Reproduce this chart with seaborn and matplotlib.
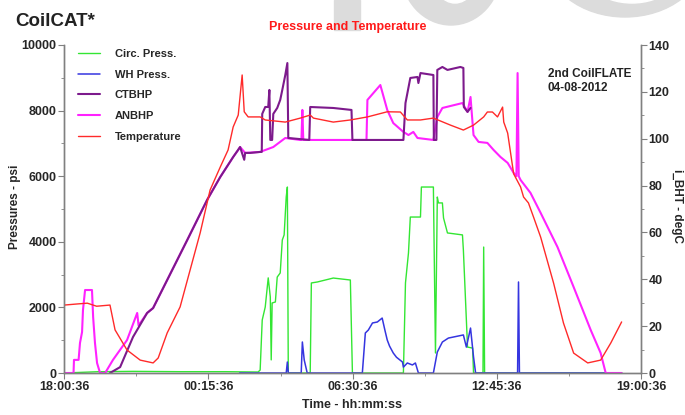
import pandas as pd
import matplotlib
matplotlib.use("Agg")
import matplotlib.pyplot as plt
from matplotlib.patches import Rectangle, Ellipse
from matplotlib.ticker import MultipleLocator
import seaborn as sns

# eixo x em horas desde 18:00:36
tick_hours = [0, 6.25, 12.5, 18.75, 25]
tick_labels = ['18:00:36', '00:15:36', '06:30:36', '12:45:36', '19:00:36']

# Circ. Press. (psi)
circ_t = [0, 1.5, 3.0, 5.0, 7.0, 8.40, 8.49, 8.58, 8.71, 8.84, 8.93, 8.97, 9.01, 9.15, 9.23, 9.36,
          9.45, 9.53, 9.62, 9.67, 9.71, 10.66, 10.71, 10.97, 11.66, 12.40, 12.49, 14.70, 14.79,
          14.92, 15.00, 15.44, 15.48, 16.00, 16.09, 16.17, 16.22, 16.39, 16.44, 16.61, 17.26,
          17.30, 17.48, 17.70, 17.74, 18.15, 18.18, 18.22, 24.16]
circ_p = [0, 40, 50, 40, 40, 30, 90, 1615, 2010, 2900, 2320, 400, 2135, 2165, 2925, 3050,
          4055, 4210, 5365, 5670, 0, 0, 2745, 2775, 2895, 2835, 0, 0, 2745,
          3660, 4755, 4755, 5670, 5670, 610, 5365, 5185, 5185, 4725, 4270, 4210,
          3750, 790, 760, 0, 0, 3840, 0, 0]

# WH Press. (psi)
wh_t = [7.6, 9.62, 9.67, 9.71, 10.27, 10.32, 10.40, 10.53, 12.92, 13.05, 13.18, 13.36, 13.57,
        13.78, 13.90, 14.00, 14.10, 14.26, 14.40, 14.66, 14.70, 14.87, 15.09, 15.22, 15.35,
        16.00, 16.17, 16.39, 16.65, 17.30, 17.43, 17.61, 17.74, 17.83, 19.65, 19.69, 19.73, 24.16]
wh_p = [0, 0, 335, 0, 0, 945, 400, 0, 0, 1220, 1310, 1525, 1555,
        1675, 1300, 1005, 820, 610, 480, 335, 180, 305, 245, 305, 0,
        0, 640, 945, 1065, 1160, 790, 1370, 490, 0, 0, 2775, 0, 0]

# CTBHP (psi)
ct_t = [1.98, 2.42, 2.98, 3.59, 3.85, 4.46, 5.33, 6.19, 6.76, 7.32, 7.62, 7.80, 7.84, 8.06,
        8.49, 8.56, 8.58, 8.71, 8.84, 8.89, 8.93, 9.01, 9.06, 9.23, 9.36, 9.45, 9.58, 9.67,
        9.71, 10.62, 10.66, 11.66, 12.45, 12.49, 14.70, 14.79, 15.00, 15.31, 15.35, 15.44,
        16.00, 16.02, 16.13, 16.17, 16.39, 16.61, 17.17, 17.30, 17.32, 17.48, 17.61]
ct_p = [0, 180, 1100, 1830, 1980, 2835, 4055, 5275, 5975, 6585, 6890, 6500, 6710, 6710,
        6740, 6740, 7900, 8110, 8110, 8630, 7105, 7105, 7900, 8080, 8325, 8630, 9085, 9450,
        7165, 7105, 8110, 8080, 8020, 7105, 7105, 8230, 8995, 9025, 8840, 9145,
        9085, 7105, 7105, 9240, 9330, 9240, 9330, 9300, 8110, 7960, 8080]

# ANBHP (psi)
an_t = [0, 0.40, 0.42, 0.62, 0.68, 0.77, 0.81, 0.90, 1.20, 1.25, 1.33, 1.42, 1.55, 1.77, 2.11,
        2.72, 3.16, 3.22, 3.59, 3.85, 4.46, 5.33, 6.19, 6.76, 7.32, 7.54, 7.62, 7.84, 8.49,
        9.06, 9.58, 10.23, 10.28, 10.32, 10.36, 13.10, 13.14, 13.70, 14.00, 14.26, 14.70,
        14.92, 15.13, 15.31, 16.00, 16.17, 16.39, 17.26, 17.48, 17.61, 17.66, 17.74, 17.96,
        18.34, 18.61, 18.91, 19.22, 19.48, 19.60, 19.65, 19.70, 19.78, 20.21, 20.65, 21.38,
        22.08, 22.82, 23.25, 23.47, 24.16]
an_p = [0, 0, 400, 400, 915, 1250, 1920, 2530, 2530, 1705, 915, 305, 0, 0, 400,
        1005, 1830, 1450, 1830, 1980, 2835, 4055, 5275, 5975, 6585, 6800, 6890, 6710, 6740,
        6890, 7165, 7105, 7105, 8020, 7105, 7105, 8325, 8780, 8020, 7620, 7350,
        7255, 7350, 7165, 7105, 7805, 8080, 8230, 7960, 8415, 7960, 7255, 7045,
        7015, 6800, 6585, 6405, 6100, 6000, 9145, 6000, 5885, 5490, 4880, 3840,
        2620, 1310, 610, 0, 0]

# Temperature (degC)
temp_t = [0, 0.6, 1.0, 1.4, 1.98, 2.20, 2.72, 3.29, 3.85, 4.07, 4.46, 5.02, 5.89, 6.32, 6.76,
          7.10, 7.32, 7.54, 7.71, 7.80, 7.97, 8.49, 8.71, 9.58, 10.23, 10.66, 10.80, 11.66,
          12.40, 13.14, 14.00, 14.57, 14.87, 15.44, 16.00, 16.74, 17.30, 17.74, 18.18, 18.34,
          18.56, 18.78, 19.00, 19.05, 19.22, 19.48, 19.78, 19.91, 20.12, 20.34, 20.65, 21.21,
          21.64, 22.08, 22.69, 23.25, 23.69, 24.16]
temp_c = [29.0, 29.5, 29.8, 28.5, 29.0, 18.4, 9.8, 5.5, 4.3, 6.4, 17.1, 28.2, 59.8, 78.1, 87.9,
          95.2, 105.0, 110.1, 127.2, 111.5, 109.3, 109.3, 108.0, 107.1, 108.8, 110.1, 108.8, 107.1,
          108.0, 109.3, 111.5, 111.4, 108.0, 108.0, 108.8, 105.8, 103.7, 105.8, 109.3, 111.4,
          111.4, 109.3, 113.5, 107.1, 102.4, 85.0, 79.4, 75.1, 72.6, 66.6, 58.0, 38.4,
          21.3, 8.5, 4.3, 5.5, 12.8, 21.8]

sns.set_style("white")
plt.rcParams['font.family'] = ['Liberation Sans Narrow', 'Liberation Sans', 'DejaVu Sans']
plt.rcParams['font.weight'] = 'bold'

fig = plt.figure(figsize=(6.85, 4.15), dpi=100)
W, H = 685.0, 415.0

# marca d'agua cinza no topo
grey = '#dcdcdc'
fig.patches.append(Rectangle((334 / W, 1 - 30 / H), 26 / W, 30 / H, transform=fig.transFigure,
                             color=grey, zorder=0))
fig.patches.append(Ellipse((451 / W, 1 + 30 / H), 100 / W, 110 / H, transform=fig.transFigure,
                           color=grey, zorder=0))
fig.patches.append(Ellipse((455 / W, 1 + 27 / H), 46 / W, 60 / H, transform=fig.transFigure,
                           color='white', zorder=0))
fig.patches.append(Ellipse((625 / W, 1 + 45 / H), 160 / W, 124 / H, transform=fig.transFigure,
                           color=grey, zorder=0))
fig.patches.append(Ellipse((632 / W, 1 + 40 / H), 110 / W, 86 / H, transform=fig.transFigure,
                           color='white', zorder=0))

ax = fig.add_axes([64.3 / W, 1 - 373 / H, (641 - 64.3) / W, (373 - 45) / H])
ax.patch.set_alpha(0)
ax2 = ax.twinx()

series = [
    (circ_t, circ_p, 'Circ. Press.', '#33e633', 1.0),
    (wh_t, wh_p, 'WH Press.', '#3535e0', 1.1),
    (an_t, an_p, 'ANBHP', '#ff22ff', 1.5),
    (ct_t, ct_p, 'CTBHP', '#7d1a8c', 1.5),
]
handles = {}
for t, v, name, col, lw in series:
    df = pd.DataFrame({'t': t, 'v': v})
    sns.lineplot(data=df, x='t', y='v', ax=ax, color=col, lw=lw, sort=False, estimator=None)
    handles[name] = ax.lines[-1]

df_temp = pd.DataFrame({'t': temp_t, 'v': temp_c})
sns.lineplot(data=df_temp, x='t', y='v', ax=ax2, color='#ff2a2a', lw=1.0, sort=False, estimator=None)
handles['Temperature'] = ax2.lines[-1]

ax.set_xlim(0, 25)
ax.set_ylim(0, 10000)
ax2.set_ylim(0, 140)
ax.set_xticks(tick_hours)
ax.set_xticklabels(tick_labels)
ax.xaxis.set_minor_locator(MultipleLocator(3.125))
ax.yaxis.set_major_locator(MultipleLocator(2000))
ax.yaxis.set_minor_locator(MultipleLocator(1000))
ax2.yaxis.set_major_locator(MultipleLocator(20))
ax2.yaxis.set_minor_locator(MultipleLocator(10))
ax.set_xlabel('')
ax.set_ylabel('')
ax2.set_ylabel('')

for a in (ax, ax2):
    for s in a.spines.values():
        s.set_color('#808080')
        s.set_linewidth(1.0)
    a.spines['top'].set_visible(False)
    a.tick_params(which='both', direction='out', color='#808080', labelsize=9, pad=1.5)
    a.tick_params(which='major', length=4)
    a.tick_params(which='minor', length=2.5)
ax.tick_params(axis='both', which='both', bottom=True, left=True)
ax2.tick_params(axis='y', which='both', right=True)

order = ['Circ. Press.', 'WH Press.', 'CTBHP', 'ANBHP', 'Temperature']
leg = ax.legend([handles[k] for k in order], order, loc='upper left',
                bbox_to_anchor=(78 / W, 1 - 49 / H), bbox_transform=fig.transFigure,
                frameon=False, fontsize=8, handlelength=2.0, handletextpad=1.3,
                labelspacing=0.96, borderpad=0, borderaxespad=0)

fig.text(15 / W, 1 - 22 / H, 'CoilCAT*', fontsize=13.5, color='#222222', va='center', ha='left')
fig.text(348 / W, 1 - 27 / H, 'Pressure and Temperature', fontsize=9, color='#ff1a1a',
         va='center', ha='center')
fig.text(548 / W, 1 - 74 / H, '2nd CoilFLATE', fontsize=8.5, color='#222222', va='center')
fig.text(548 / W, 1 - 88 / H, '04-08-2012', fontsize=8.5, color='#222222', va='center')
fig.text(15 / W, 1 - 207 / H, 'Pressures - psi', fontsize=8.5, rotation=90, va='center', ha='center')
fig.text(677 / W, 1 - 206 / H, 'i_BHT - degC', fontsize=8.5, rotation=270, va='center', ha='center')
fig.text(352 / W, 1 - 405 / H, 'Time - hh:mm:ss', fontsize=9, va='center', ha='center')

fig.savefig('out.png', dpi=100)
